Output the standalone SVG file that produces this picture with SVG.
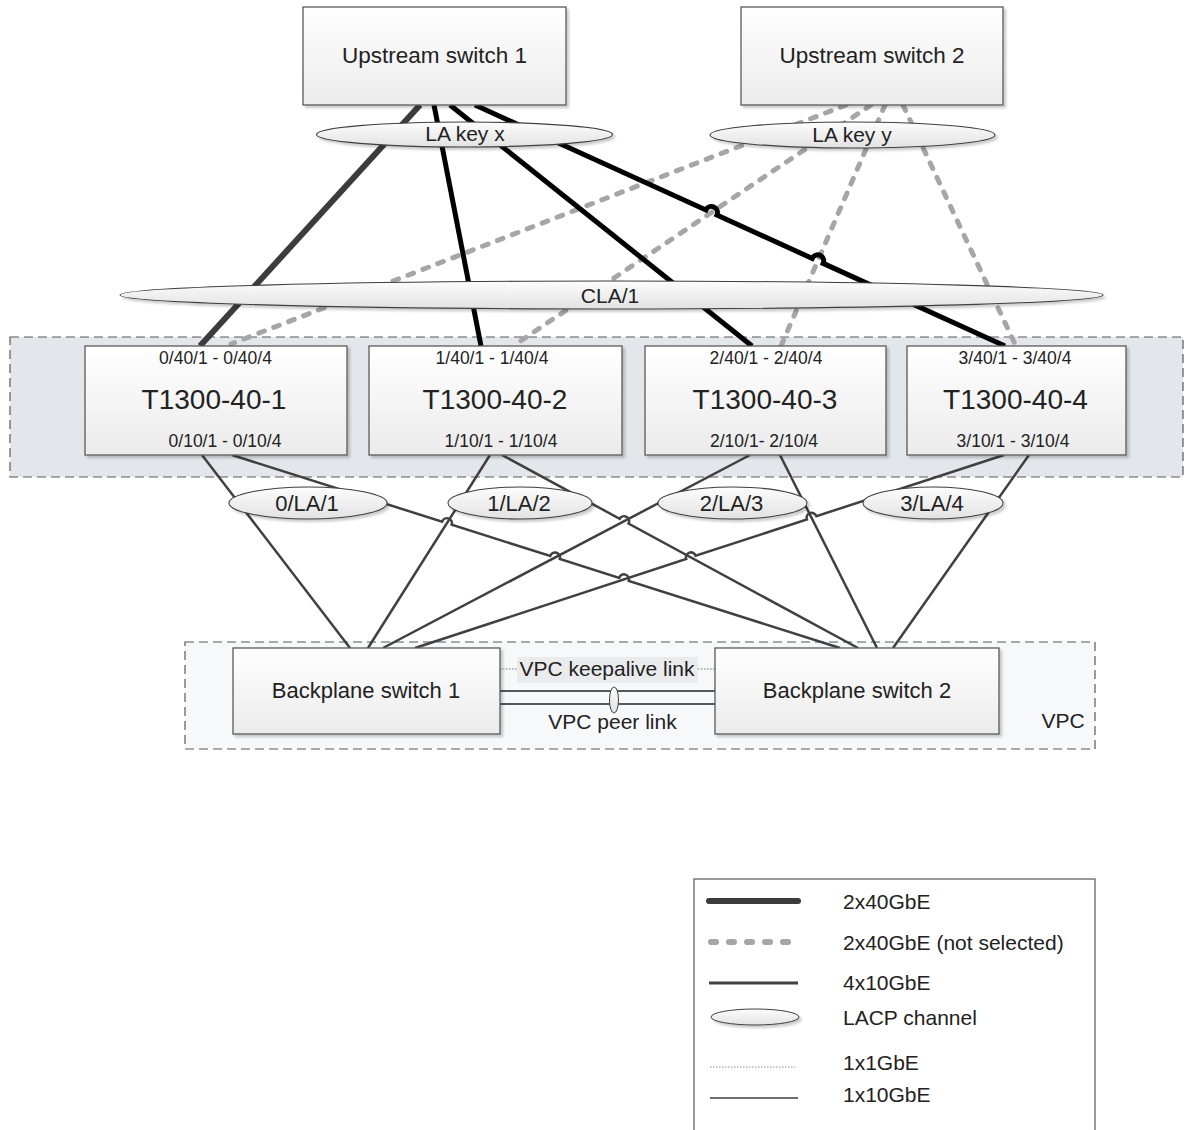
<svg xmlns="http://www.w3.org/2000/svg" width="1186" height="1130" viewBox="0 0 1186 1130">
<defs>
  <linearGradient id="gBox" x1="0" y1="0" x2="0" y2="1">
    <stop offset="0" stop-color="#ffffff"/>
    <stop offset="1" stop-color="#ebebeb"/>
  </linearGradient>
  <linearGradient id="gOval" x1="0" y1="0" x2="0" y2="1">
    <stop offset="0" stop-color="#fdfdfd"/>
    <stop offset="1" stop-color="#e2e2e2"/>
  </linearGradient>
  <filter id="sh" x="-5%" y="-10%" width="115%" height="140%">
    <feDropShadow dx="2.5" dy="2.5" stdDeviation="1.2" flood-color="#000" flood-opacity="0.2"/>
  </filter>
</defs>
<style>
  text{font-family:"Liberation Sans",Arial,sans-serif;fill:#222;text-anchor:middle}
  .box{fill:url(#gBox);stroke:#595959;stroke-width:1.3;filter:url(#sh)}
  .oval{fill:url(#gOval);stroke:#3f3f3f;stroke-width:1.1;filter:url(#sh)}
  .l40{fill:none;stroke:#000;stroke-width:5}
  .l40g{fill:none;stroke:#3c3c3c;stroke-width:6}
  .dash{fill:none;stroke:#a6a6a6;stroke-width:5;stroke-dasharray:6 10;stroke-linecap:round}
  .l10{fill:none;stroke:#404040;stroke-width:2.5}
  .cont{stroke:#595959;stroke-width:1.2;stroke-dasharray:9 5}
  .s{font-size:17.5px}
  .b{font-size:28px}
  .m{font-size:22px}
  .lg{font-size:21px;text-anchor:start}
</style>

<g id="container-t1300">
  <rect class="cont" x="10" y="337" width="1173" height="140" fill="#e3e6ea"/>
</g>
<g id="container-vpc">
  <rect class="cont" x="185" y="642" width="910" height="107" fill="#f7f8fa"/>
  <text x="1063" y="728" style="font-size:21px">VPC</text>
</g>

<g id="connectors">
  <!-- 2x40GbE not selected (dashed) from Upstream switch 2 -->
  <path class="dash" d="M846 105 L231 344"/>
  <path class="dash" d="M871 105 L513 346"/>
  <path class="dash" d="M885 105 L781 346"/>
  <path class="dash" d="M903 105 L1015 344"/>
  <!-- 2x40GbE from Upstream switch 1 -->
  <path class="l40g" d="M420 105 L200 346"/>
  <path class="l40" d="M434 105 L481 346"/>
  <path class="l40" d="M450 105 L752 346"/>
  <path class="l40" d="M475 105 L705.9 210 A6 6 0 0 1 716.9 215 L812.2 258.4 A6 6 0 0 1 823.2 263.4 L1005 346"/>
  <!-- 4x10GbE -->
  <path class="l10" d="M202 455 L350 648"/>
  <path class="l10" d="M232 455 L442.1 521.7 A5 5 0 0 1 451.7 524.7 L550.2 556 A5 5 0 0 1 559.8 559 L619.2 577.9 A5 5 0 0 1 628.8 580.9 L840 648"/>
  <path class="l10" d="M490 455 L368 648"/>
  <path class="l10" d="M502 455 L619.7 518.8 A5 5 0 0 1 628.5 523.6 L858 648"/>
  <path class="l10" d="M750 455 L383 648"/>
  <path class="l10" d="M780 455 L877 648"/>
  <path class="l10" d="M415 648 L686.2 559 A5 5 0 0 1 695.7 555.8 L806.9 519.4 A5 5 0 0 1 816.4 516.2 L1004 455"/>
  <path class="l10" d="M1029 455 L893 648"/>
  <!-- VPC links -->
  <line x1="500" y1="669" x2="715" y2="669" stroke="#777" stroke-width="1" stroke-dasharray="1.5 1.5"/>
  <line x1="500" y1="691" x2="715" y2="691" stroke="#222" stroke-width="1.6"/>
  <line x1="500" y1="704" x2="715" y2="704" stroke="#222" stroke-width="1.6"/>
  <rect x="517" y="657" width="181" height="26" fill="#eaebed"/>
  <text x="607" y="676" style="font-size:21px">VPC keepalive link</text>
  <ellipse cx="614" cy="700" rx="4.5" ry="13" fill="url(#gOval)" stroke="#444" stroke-width="1"/>
  <text x="612.5" y="729" style="font-size:21px">VPC peer link</text>
</g>

<g id="us1">
  <rect class="box" x="303" y="7" width="263" height="98"/>
  <text class="m" x="434.5" y="63" style="font-size:22.5px">Upstream switch 1</text>
</g>
<g id="us2">
  <rect class="box" x="741" y="7" width="262" height="98"/>
  <text class="m" x="872" y="63" style="font-size:22.5px">Upstream switch 2</text>
</g>
<g id="la-key-x">
  <ellipse class="oval" cx="464.5" cy="134.5" rx="148" ry="12.5"/>
  <text x="465" y="141" style="font-size:21px">LA key x</text>
</g>
<g id="la-key-y">
  <ellipse class="oval" cx="852.5" cy="135" rx="142.5" ry="13"/>
  <text x="852" y="141.5" style="font-size:21px">LA key y</text>
</g>
<g id="cla1">
  <ellipse class="oval" cx="611.5" cy="295" rx="491.5" ry="14"/>
  <text x="610" y="302.5" style="font-size:21px">CLA/1</text>
</g>

<g id="t1300-40-1">
  <rect class="box" x="85" y="346" width="262" height="109"/>
  <text class="s" x="215.5" y="364">0/40/1 -  0/40/4</text>
  <text class="b" x="214" y="409">T1300-40-1</text>
  <text class="s" x="225" y="447">0/10/1 - 0/10/4</text>
</g>
<g id="t1300-40-2">
  <rect class="box" x="369" y="346" width="253" height="109"/>
  <text class="s" x="492" y="364">1/40/1 - 1/40/4</text>
  <text class="b" x="495" y="409">T1300-40-2</text>
  <text class="s" x="501" y="447">1/10/1 - 1/10/4</text>
</g>
<g id="t1300-40-3">
  <rect class="box" x="645" y="346" width="241" height="109"/>
  <text class="s" x="766" y="364">2/40/1 - 2/40/4</text>
  <text class="b" x="765" y="409">T1300-40-3</text>
  <text class="s" x="764" y="447">2/10/1- 2/10/4</text>
</g>
<g id="t1300-40-4">
  <rect class="box" x="907" y="346" width="219" height="109"/>
  <text class="s" x="1015" y="364">3/40/1 - 3/40/4</text>
  <text class="b" x="1015.5" y="409">T1300-40-4</text>
  <text class="s" x="1013" y="447">3/10/1 - 3/10/4</text>
</g>

<g id="la0">
  <ellipse class="oval" cx="308" cy="503" rx="79" ry="16"/>
  <text class="m" x="307" y="511">0/LA/1</text>
</g>
<g id="la1">
  <ellipse class="oval" cx="520" cy="503" rx="72" ry="16"/>
  <text class="m" x="519" y="511">1/LA/2</text>
</g>
<g id="la2">
  <ellipse class="oval" cx="732.5" cy="503" rx="74.5" ry="16"/>
  <text class="m" x="731.5" y="511">2/LA/3</text>
</g>
<g id="la3">
  <ellipse class="oval" cx="933" cy="503" rx="70" ry="16"/>
  <text class="m" x="932" y="511">3/LA/4</text>
</g>

<g id="bp1">
  <rect class="box" x="233" y="648" width="267" height="86"/>
  <text class="m" x="366" y="698">Backplane switch 1</text>
</g>
<g id="bp2">
  <rect class="box" x="715" y="648" width="284" height="86"/>
  <text class="m" x="857" y="698">Backplane switch 2</text>
</g>

<g id="legend">
  <rect x="694" y="879" width="401" height="270" fill="#ffffff" stroke="#595959" stroke-width="1.2"/>
  <line x1="709" y1="901" x2="798" y2="901" stroke="#3c3c3c" stroke-width="6" stroke-linecap="round"/>
  <line x1="711" y1="942" x2="800" y2="942" stroke="#a6a6a6" stroke-width="6" stroke-linecap="round" stroke-dasharray="5 13"/>
  <line x1="709" y1="983" x2="798" y2="983" stroke="#404040" stroke-width="3"/>
  <ellipse cx="755" cy="1017" rx="44" ry="8" fill="url(#gOval)" stroke="#3f3f3f" stroke-width="1" filter="url(#sh)"/>
  <line x1="710" y1="1067" x2="795" y2="1067" stroke="#888" stroke-width="1" stroke-dasharray="1.5 1.5"/>
  <line x1="710" y1="1098" x2="798" y2="1098" stroke="#404040" stroke-width="1.5"/>
  <text class="lg" x="843" y="909">2x40GbE</text>
  <text class="lg" x="843" y="950">2x40GbE (not selected)</text>
  <text class="lg" x="843" y="990">4x10GbE</text>
  <text class="lg" x="843" y="1025">LACP channel</text>
  <text class="lg" x="843" y="1070">1x1GbE</text>
  <text class="lg" x="843" y="1102">1x10GbE</text>
</g>
</svg>
